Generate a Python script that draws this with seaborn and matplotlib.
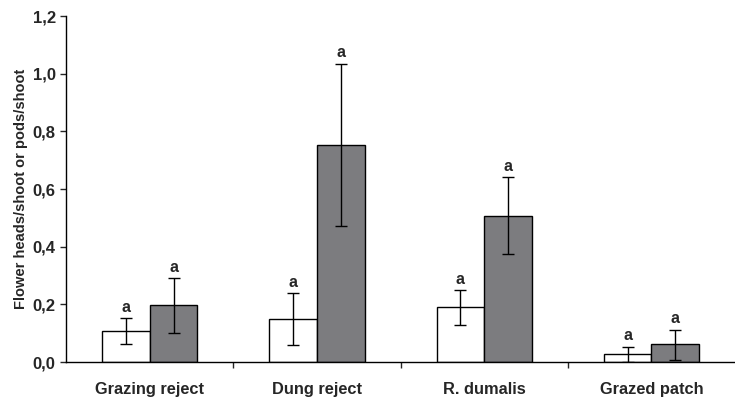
import numpy as np
import pandas as pd
import matplotlib
matplotlib.use("Agg")
import matplotlib.pyplot as plt
import seaborn as sns
from matplotlib.ticker import FuncFormatter, FixedLocator

# data
categories = ["Grazing reject", "Dung reject", "R. dumalis", "Grazed patch"]
white_vals = [0.108, 0.150, 0.190, 0.027]
grey_vals = [0.197, 0.754, 0.508, 0.062]
white_err_low = [0.045, 0.090, 0.062, 0.025]
white_err_high = [0.045, 0.088, 0.060, 0.026]
grey_err_low = [0.097, 0.282, 0.133, 0.055]
grey_err_high = [0.094, 0.280, 0.133, 0.050]
letters_white = ["a", "a", "a", "a"]
letters_grey = ["a", "a", "a", "a"]

df = pd.DataFrame({
    "cat": categories * 2,
    "val": white_vals + grey_vals,
    "grp": ["w"] * 4 + ["g"] * 4,
})

sns.set_style("white")
plt.rcParams["font.family"] = ["Liberation Sans", "DejaVu Sans"]
plt.rcParams["font.weight"] = "bold"

fig = plt.figure(figsize=(7.35, 4.01), dpi=100)
ax = fig.add_axes([0.09, 0.097, 0.91, 0.863])

sns.barplot(data=df, x="cat", y="val", hue="grp", hue_order=["w", "g"],
            palette={"w": "white", "g": "#7b7c80"}, width=0.57,
            edgecolor="black", linewidth=1.0, errorbar=None, legend=False, ax=ax)

# error bars + letters on top of each bar
for bars, lo, hi, lett in [(ax.containers[0], white_err_low, white_err_high, letters_white),
                           (ax.containers[1], grey_err_low, grey_err_high, letters_grey)]:
    for b, l, h, t in zip(bars, lo, hi, lett):
        x = b.get_x() + b.get_width() / 2
        y = b.get_height()
        ax.errorbar(x, y, yerr=[[l], [h]], fmt="none", ecolor="black",
                    elinewidth=1.0, capsize=4, capthick=1.0)
        ax.text(x, y + h + 0.012, t, ha="center", va="bottom",
                fontsize=11.5, fontweight="bold")

ax.set_xlim(-0.5, 3.5)
ax.set_ylim(0, 1.2)
ax.set_yticks(np.arange(0, 1.21, 0.2))
ax.yaxis.set_major_formatter(FuncFormatter(lambda v, p: f"{v:.1f}".replace(".", ",")))
ax.xaxis.set_minor_locator(FixedLocator([0.5, 1.5, 2.5]))
ax.tick_params(axis="x", which="major", length=0, pad=14, labelsize=11.8)
ax.tick_params(axis="x", which="minor", length=4, width=1, direction="out", bottom=True)
ax.tick_params(axis="y", length=4, width=1, direction="out", left=True, labelsize=12)
for lab in ax.get_xticklabels() + ax.get_yticklabels():
    lab.set_fontweight("bold")

ax.set_xlabel("")
ax.set_ylabel("Flower heads/shoot or pods/shoot", fontsize=10.5, fontweight="bold", labelpad=3)

for s in ["top", "right"]:
    ax.spines[s].set_visible(False)
for s in ["left", "bottom"]:
    ax.spines[s].set_color("black")
    ax.spines[s].set_linewidth(1.0)

fig.savefig("out.png", dpi=100)
